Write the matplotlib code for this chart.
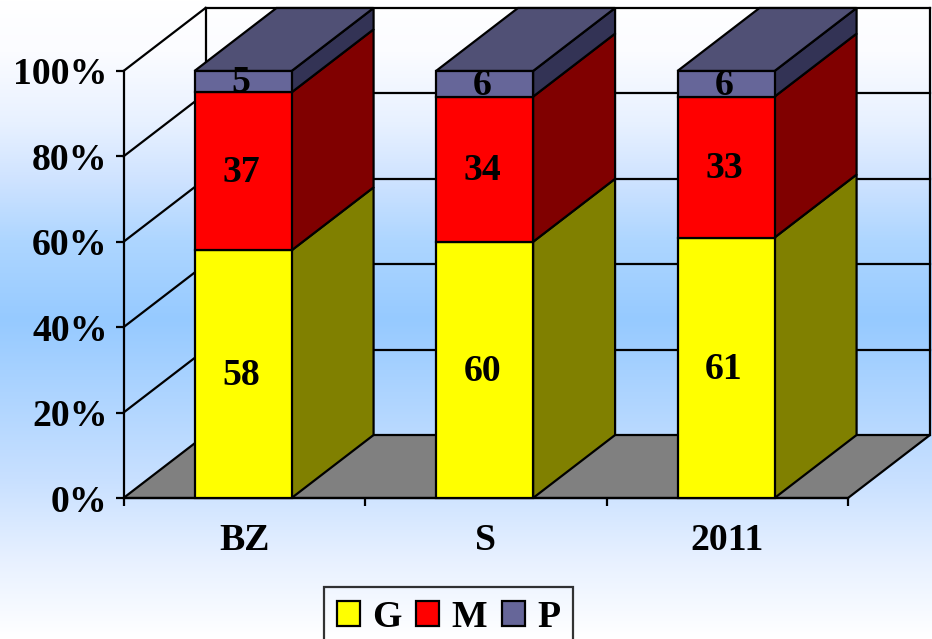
import numpy as np
from matplotlib import pyplot as plt
from matplotlib.colors import LinearSegmentedColormap
from matplotlib.patches import Polygon

categories = ["BZ", "S", "2011"]
g_values = [58, 60, 61]
m_values = [37, 34, 33]
p_values = [5, 6, 6]
series_names = ["G", "M", "P"]
y_ticks = [0, 20, 40, 60, 80, 100]
y_labels = ["0%", "20%", "40%", "60%", "80%", "100%"]

front_colors = ["#ffff00", "#ff0000", "#666699"]
side_colors = ["#808000", "#800000", "#333355"]
top_color = "#505075"

W, H = 932, 639
FS = 27.2
plt.rcParams["font.family"] = ["Liberation Serif", "DejaVu Serif"]
plt.rcParams["font.weight"] = "bold"

fig = plt.figure(figsize=(W / 100, H / 100), dpi=100)

# page background
bg = fig.add_axes([0, 0, 1, 1], zorder=0)
bg_cmap = LinearSegmentedColormap.from_list("bg", [(0, "#ffffff"), (0.08, "#fbfcff"), (0.19, "#e8f1ff"),
                                                   (0.28, "#cfe3ff"), (0.375, "#aed6ff"), (0.5, "#96caff"),
                                                   (0.75, "#c8e0ff"), (0.88, "#e8f1ff"), (1, "#ffffff")])
bg.imshow(np.linspace(0, 1, 256).reshape(-1, 1), aspect="auto", cmap=bg_cmap, vmin=0, vmax=1)
bg.axis("off")

# front plane of the chart box
ax = fig.add_axes([123.5 / W, 1 - 498 / H, 724.5 / W, 427 / H], zorder=1)
ax.patch.set_alpha(0)
ax.set_xlim(0, 3)
ax.set_ylim(0, 100)

# depth of the fake 3d box in data units
dx = 82 / 724.5 * 3
dy = 63 / 427 * 100
lw = 1.6

# walls and floor
ax.add_patch(Polygon([(0, 0), (3, 0), (3 + dx, dy), (dx, dy)], closed=True, fc="#808080", ec="black",
                     lw=lw, clip_on=False, zorder=1))
for t in y_ticks[1:]:
    ax.plot([0, dx], [t, t + dy], color="black", lw=lw, clip_on=False, zorder=1)
    ax.plot([dx, 3 + dx], [t + dy, t + dy], color="black", lw=lw, clip_on=False, zorder=1)
ax.plot([dx, dx], [dy, 100 + dy], color="black", lw=lw, clip_on=False, zorder=1)
ax.plot([3 + dx, 3 + dx], [dy, 100 + dy], color="black", lw=lw, clip_on=False, zorder=1)

# bars
x = np.arange(len(categories)) + 0.495
width = 0.402
bottom = np.zeros(len(categories))
all_values = [g_values, m_values, p_values]
handles = []
for vals, name, fc, sc in zip(all_values, series_names, front_colors, side_colors):
    vals = np.array(vals, dtype=float)
    b = ax.bar(x, vals, width, bottom=bottom, color=fc, edgecolor="black", lw=lw, label=name, zorder=3,
               clip_on=False)
    handles.append(b)
    for xi, v, y0 in zip(x, vals, bottom):
        r = xi + width / 2
        ax.add_patch(Polygon([(r, y0), (r + dx, y0 + dy), (r + dx, y0 + v + dy), (r, y0 + v)], closed=True,
                             fc=sc, ec="black", lw=lw, clip_on=False, zorder=2))
        ax.text(xi - 0.008, y0 + v / 2 - 0.3, "%d" % v, ha="center", va="center", fontsize=FS, zorder=4)
    bottom = bottom + vals

for xi in x:
    l = xi - width / 2
    r = xi + width / 2
    ax.add_patch(Polygon([(l, 100), (r, 100), (r + dx, 100 + dy), (l + dx, 100 + dy)], closed=True,
                         fc=top_color, ec="black", lw=lw, clip_on=False, zorder=2))

# axes
for s in ["top", "right"]:
    ax.spines[s].set_visible(False)
for s in ["left", "bottom"]:
    ax.spines[s].set_linewidth(lw)
    ax.spines[s].set_zorder(2.5)
ax.set_yticks(y_ticks)
ax.set_yticklabels(y_labels, fontsize=FS)
ax.set_xticks([0, 1, 2, 3])
ax.set_xticklabels([])
ax.tick_params(axis="both", length=5.5, width=lw)
ax.tick_params(axis="y", pad=6)
for xi, c in zip(np.arange(3) + 0.5, categories):
    ax.text(xi, -10, c, ha="center", va="center", fontsize=FS)

# legend runs off the bottom of the picture
leg = fig.legend(handles=handles, loc="upper center", bbox_to_anchor=(448.5 / W, 1 - 587 / H), ncol=3,
                 fontsize=FS, frameon=True, fancybox=False, facecolor="none", edgecolor="black",
                 handlelength=0.62, handleheight=0.62, handletextpad=0.32, columnspacing=0.38,
                 borderpad=0.34, borderaxespad=0)
leg.get_frame().set_linewidth(lw)
leg.set_zorder(5)

fig.savefig("out.png", dpi=100)
